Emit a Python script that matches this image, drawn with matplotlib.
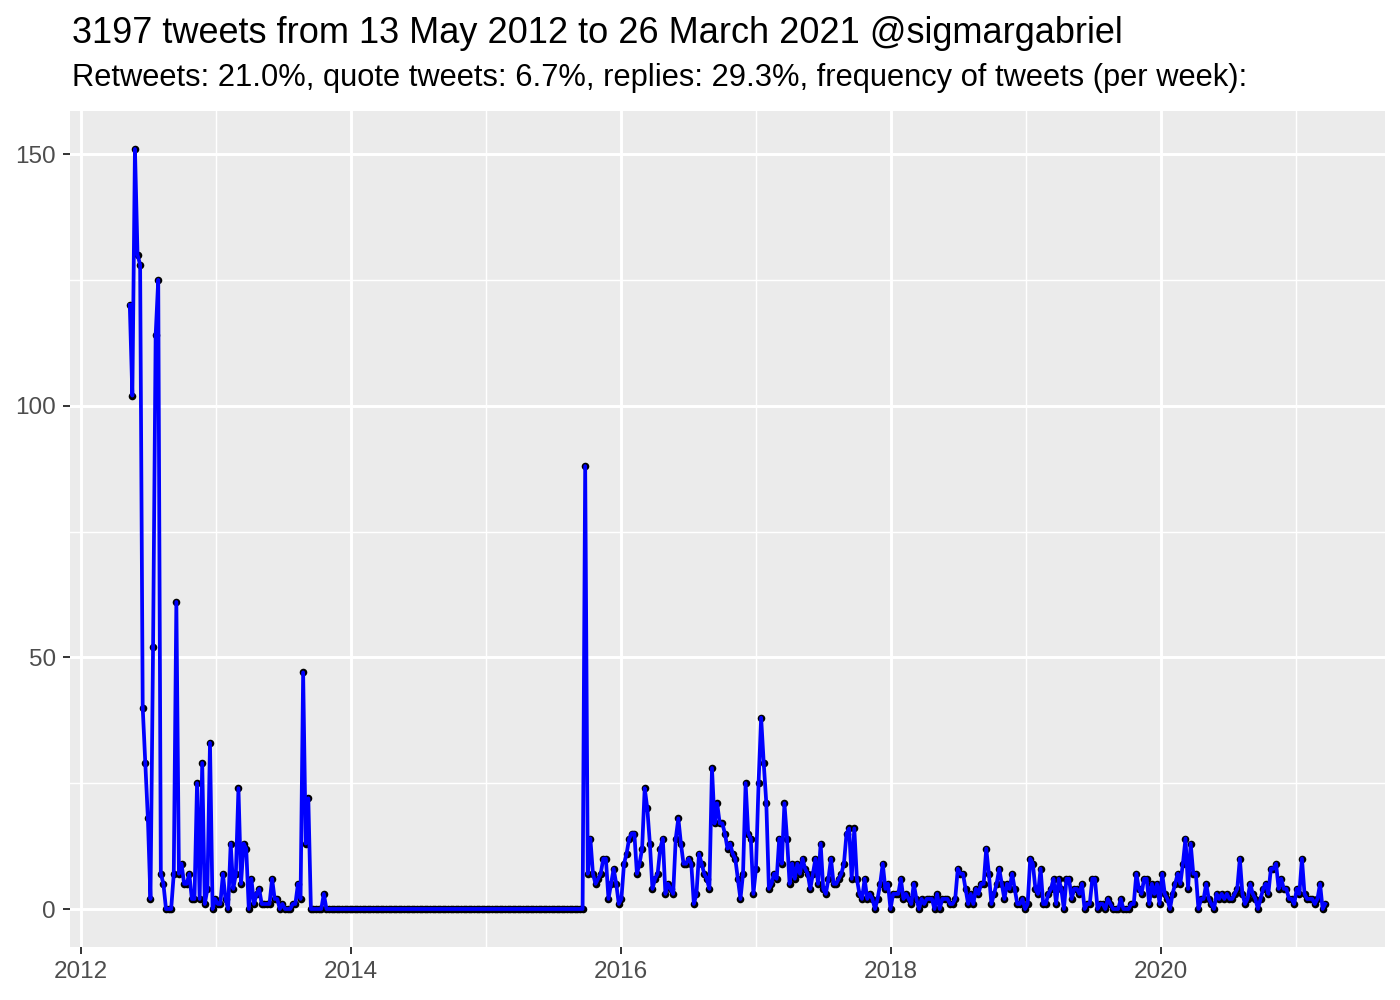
import matplotlib
matplotlib.use("Agg")
import matplotlib.pyplot as plt
import matplotlib.dates as mdates
import pandas as pd

# ---------------- data (weekly tweet counts) ----------------
start_date = "2012-05-13"

weeks_2012 = [120, 102, 151, 130, 128, 40, 29, 18, 2, 52, 114, 125,
              7, 5, 0, 0, 0, 7, 61, 7, 9, 5, 5, 7, 2, 2, 25, 2, 29, 1, 4, 33]
weeks_2013 = [0, 2, 1, 1, 7, 2, 0, 13, 4, 7, 24, 5, 13, 12, 0, 6, 1, 3, 4, 1,
              1, 1, 1, 6, 2, 2, 0, 1, 0, 0, 0, 1, 1, 5, 2, 47, 13, 22, 0, 0,
              0, 0, 0, 3]
weeks_2014_2015_quiet = [0, 0, 0, 0, 0, 0, 0, 0, 0, 0, 0, 0, 0, 0, 0, 0, 0, 0, 0, 0,
                         0, 0, 0, 0, 0, 0, 0, 0, 0, 0, 0, 0, 0, 0, 0, 0, 0, 0, 0, 0,
                         0, 0, 0, 0, 0, 0, 0, 0, 0, 0, 0, 0, 0, 0, 0, 0, 0, 0, 0, 0,
                         0, 0, 0, 0, 0, 0, 0, 0, 0, 0, 0, 0, 0, 0, 0, 0, 0, 0, 0, 0,
                         0, 0, 0, 0, 0, 0, 0, 0, 0, 0, 0, 0, 0, 0, 0, 0, 0, 0, 0, 0]
weeks_2015_2016 = [88, 7, 14, 7, 5, 6, 7, 10, 10, 2, 5, 8, 5, 1, 2, 9, 11, 14, 15, 15,
                   7, 9, 12, 24, 20, 13, 4, 6, 7, 12, 14, 3, 5, 4, 3, 14, 18, 13, 9, 9,
                   10, 9, 1, 3, 11, 9, 7, 6, 4, 28, 17, 21, 17, 17, 15, 12, 13, 11, 10, 6,
                   2, 7, 25, 15, 14, 3, 8, 25]
weeks_2017 = [38, 29, 21, 4, 5, 7, 6, 14, 9, 21, 14, 5, 9, 6, 9, 7, 10, 8, 7, 4,
              7, 10, 5, 13, 4, 3, 6, 10, 5, 5, 6, 7, 9, 15, 16, 6, 16, 6, 3, 2,
              6, 2, 3, 2, 0, 2, 5, 9]
weeks_2018 = [4, 5, 0, 3, 3, 3, 6, 2, 3, 2, 1, 5, 2, 0, 2, 1, 2, 2, 2, 0,
              3, 0, 2, 2, 2, 1, 1, 2, 8, 7, 7, 4, 1, 3, 1, 4, 3, 5, 5, 12,
              7, 1, 3, 5, 8, 5, 2, 5, 4, 7, 4, 1, 1, 2, 0, 1]
weeks_2019 = [10, 9, 4, 3, 8, 1, 1, 3, 4, 6, 1, 6, 4, 0, 6, 6, 2, 4, 4, 3,
              5, 0, 1, 1, 6, 6, 0, 1, 1, 0, 2, 1, 0, 0, 0, 2, 0, 0, 0, 1,
              1, 7, 4, 3, 6, 6, 1, 5, 3, 5, 1, 7, 3, 2, 0]
weeks_2020_2021 = [3, 5, 7, 5, 9, 14, 4, 13, 7, 7, 0, 2, 2, 5, 2, 1, 0, 3, 2, 3,
                   2, 3, 2, 2, 3, 4, 10, 3, 1, 2, 5, 3, 2, 0, 2, 4, 5, 3, 8, 8,
                   9, 4, 6, 4, 4, 2, 2, 1, 4, 3, 10, 3, 2, 2, 2, 1, 2, 5, 0, 1]

y_ticks = [0, 50, 100, 150]
x_tick_years = [2012, 2014, 2016, 2018, 2020]

title = "3197 tweets from 13 May 2012 to 26 March 2021 @sigmargabriel"
subtitle = ("Retweets: 21.0%, quote tweets: 6.7%, replies: 29.3%, "
            "frequency of tweets (per week):")

values = (weeks_2012 + weeks_2013 + weeks_2014_2015_quiet + weeks_2015_2016
          + weeks_2017 + weeks_2018 + weeks_2019 + weeks_2020_2021)
dates = pd.date_range(start_date, periods=len(values), freq="7D")

# ---------------- style ----------------
FONT = ["Liberation Sans", "DejaVu Sans"]
plt.rcParams["font.family"] = FONT

fig = plt.figure(figsize=(14, 10), dpi=100)
ax = fig.add_axes([70 / 1400, 1 - 947 / 1000, (1385 - 70) / 1400, (947 - 111) / 1000])
ax.set_facecolor("#EBEBEB")
for s in ax.spines.values():
    s.set_visible(False)

ax.scatter(dates, values, s=30, color="black", zorder=3, linewidths=0)
ax.plot(dates, values, color="#0000FF", lw=2.7, zorder=4, solid_joinstyle="round")

ax.margins(x=0.05, y=0.05)

ax.set_yticks(y_ticks)
ax.set_yticks([25, 75, 125], minor=True)
ax.set_xticks([pd.Timestamp(f"{y}-01-01") for y in x_tick_years])
ax.set_xticks([pd.Timestamp(f"{y}-01-01") for y in range(2013, 2022, 2)], minor=True)
ax.xaxis.set_major_formatter(mdates.DateFormatter("%Y"))

ax.grid(which="major", color="white", lw=2.1)
ax.grid(which="minor", color="white", lw=1.05)
ax.set_axisbelow(True)

ax.tick_params(which="major", length=5, width=1.4, color="#333333",
               labelsize=17.5, labelcolor="#4D4D4D", pad=5)
ax.tick_params(which="minor", length=0)

fig.text(72 / 1400, 1 - 43 / 1000, title, fontsize=26, color="black",
         ha="left", va="baseline")
fig.text(72 / 1400, 1 - 86 / 1000, subtitle, fontsize=22.2, color="black",
         ha="left", va="baseline")

fig.savefig("out.png", dpi=100)
